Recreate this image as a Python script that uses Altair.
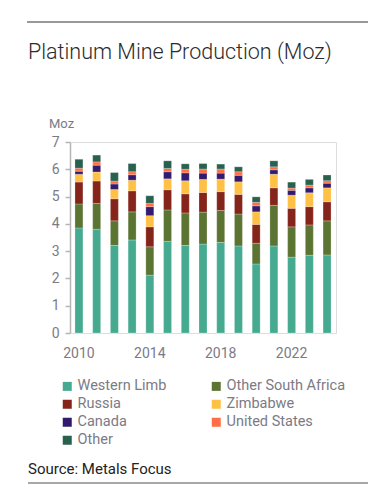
import altair as alt
import pandas as pd

years = [str(y) for y in range(2010, 2025)]
series = ["Western Limb", "Other South Africa", "Russia", "Zimbabwe",
          "Canada", "United States", "Other"]
colors = ["#45AA8F", "#5B7432", "#85241A", "#FFC145", "#321A6E", "#FF6E45", "#28624E"]
# legend fills column-wise (4 rows), so list the first column first
legend_order = ["Western Limb", "Russia", "Canada", "Other",
                "Other South Africa", "Zimbabwe", "United States"]

western_limb = [3.85, 3.80, 3.21, 3.41, 2.12, 3.36, 3.21, 3.26, 3.32, 3.19, 2.53, 3.19, 2.78, 2.85, 2.86]
other_sa     = [0.88, 0.95, 0.90, 1.03, 1.04, 1.15, 1.19, 1.17, 1.17, 1.17, 0.76, 1.49, 1.11, 1.11, 1.25]
russia       = [0.80, 0.82, 0.81, 0.77, 0.73, 0.74, 0.70, 0.72, 0.69, 0.72, 0.69, 0.64, 0.68, 0.67, 0.70]
zimbabwe     = [0.29, 0.33, 0.34, 0.39, 0.41, 0.40, 0.48, 0.48, 0.46, 0.46, 0.46, 0.50, 0.48, 0.51, 0.51]
canada       = [0.11, 0.25, 0.20, 0.20, 0.33, 0.26, 0.29, 0.23, 0.22, 0.24, 0.22, 0.16, 0.18, 0.18, 0.17]
united_states= [0.11, 0.12, 0.11, 0.11, 0.12, 0.12, 0.13, 0.15, 0.15, 0.13, 0.13, 0.11, 0.08, 0.10, 0.09]
other        = [0.33, 0.25, 0.31, 0.30, 0.28, 0.28, 0.20, 0.20, 0.18, 0.18, 0.20, 0.22, 0.22, 0.21, 0.21]

x_labels = ["2010", "2014", "2018", "2022"]
y_ticks = [0, 1, 2, 3, 4, 5, 6, 7]

title_text = "Platinum Mine Production (Moz)"
unit_text = "Moz"
source_text = "Source: Metals Focus"

vals = [western_limb, other_sa, russia, zimbabwe, canada, united_states, other]
rows = []
for si, (name, arr) in enumerate(zip(series, vals)):
    for y, v in zip(years, arr):
        rows.append({"Year": y, "Region": name, "Value": v, "idx": si})
df = pd.DataFrame(rows)

color_map = dict(zip(series, colors))
legend_colors = [color_map[s] for s in legend_order]

FONT = "Roboto"

bars = alt.Chart(df).mark_bar(stroke="white", strokeWidth=0.4, strokeOpacity=0.6).encode(
    x=alt.X("Year:O", title=None,
            scale=alt.Scale(paddingInner=0.55, paddingOuter=0.28),
            axis=alt.Axis(values=x_labels, labelAngle=0, domain=False, ticks=False,
                          labelPadding=13, labelFontSize=14, labelColor="#7b7b85",
                          labelFont=FONT)),
    y=alt.Y("Value:Q", stack="zero", title=None,
            scale=alt.Scale(domain=[0, 7], nice=False),
            axis=alt.Axis(values=y_ticks, grid=False, domainColor="#b5b5b5",
                          tickColor="#b5b5b5", domainWidth=1.5, tickWidth=1.5,
                          tickSize=5, labelPadding=6, labelFontSize=14,
                          labelColor="#7b7b85", labelFont=FONT)),
    color=alt.Color("Region:N", scale=alt.Scale(domain=legend_order, range=legend_colors),
                    legend=alt.Legend(title=None, orient="none", legendX=-10, legendY=237,
                                      columns=2, columnPadding=42, rowPadding=3,
                                      symbolType="square", symbolSize=81,
                                      symbolStrokeWidth=0, labelFontSize=14.5,
                                      labelColor="#7b7b85", labelFont=FONT,
                                      labelOffset=3)),
    order=alt.Order("idx:Q", sort="ascending"),
)

one = pd.DataFrame({"t": [title_text]})
title = alt.Chart(one).mark_text(align="left", baseline="alphabetic", fontSize=21.5,
                                 font=FONT, fontWeight=300, color="#2b2b2b").encode(
    x=alt.value(-42), y=alt.value(-83), text="t:N")

unit = alt.Chart(pd.DataFrame({"t": [unit_text]})).mark_text(
    align="left", baseline="alphabetic", fontSize=13, font=FONT, color="#7b7b85").encode(
    x=alt.value(-21), y=alt.value(-14), text="t:N")

source = alt.Chart(pd.DataFrame({"t": [source_text]})).mark_text(
    align="left", baseline="alphabetic", fontSize=15, font=FONT, color="#222222").encode(
    x=alt.value(-42), y=alt.value(332), text="t:N")

top_line = alt.Chart(pd.DataFrame({"a": [1]})).mark_rule(color="#333333", strokeWidth=1).encode(
    x=alt.value(-43), x2=alt.value(298), y=alt.value(-120))

bottom_line = alt.Chart(pd.DataFrame({"a": [1]})).mark_rule(color="#8a8a8a", strokeWidth=1.5).encode(
    x=alt.value(-42), x2=alt.value(298), y=alt.value(341))

chart = alt.layer(bars, title, unit, source, top_line, bottom_line).properties(
    width=266, height=191,
    autosize=alt.AutoSizeParams(type="none"),
    padding={"left": 62, "top": 134, "right": 41, "bottom": 160},
).configure_view(stroke=None).configure(background="white")

chart.save("out.html", embed_options={"renderer": "svg", "actions": False})
